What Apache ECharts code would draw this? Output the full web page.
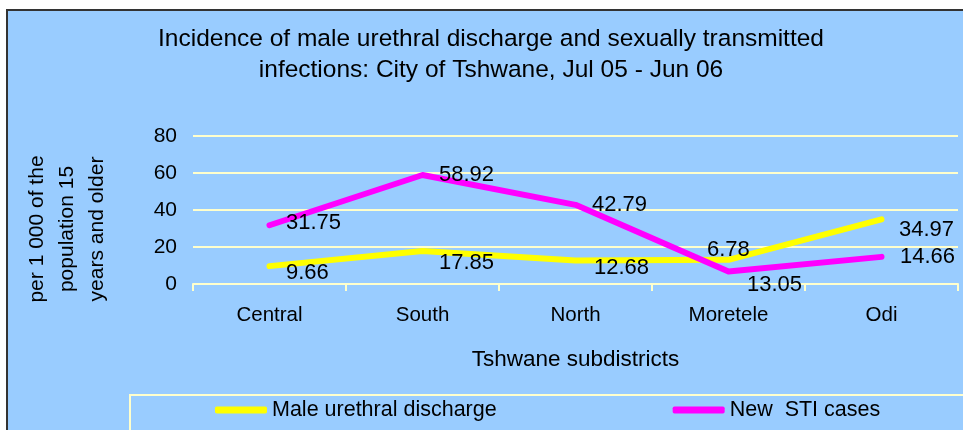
<!DOCTYPE html>
<html>
<head>
<meta charset="utf-8">
<script src="https://cdn.jsdelivr.net/npm/echarts@6/dist/echarts.min.js"></script>
<style>
  html, body { margin: 0; padding: 0; background: #fff; }
  #frame {
    position: absolute; left: 6px; top: 9px; width: 960px; height: 424px;
    background: #99ccff; border-left: 2px solid #333; border-top: 2px solid #333;
  }
  #chart { position: absolute; left: 0; top: 0; width: 963px; height: 430px; }
</style>
</head>
<body>
<div id="frame"></div>
<div id="chart"></div>
<script>
// 数据
const subdistricts = ['Central', 'South', 'North', 'Moretele', 'Odi'];
const maleDischarge = [9.66, 17.85, 12.68, 13.05, 34.97];
const newSti = [31.75, 58.92, 42.79, 6.78, 14.66];
const yTicks = { min: 0, max: 80, interval: 20 };

const font = "'Liberation Sans', Arial, sans-serif";

// 标签微调（原图中标签被手动拖动过）
const maleNudge = [[0, 7], [0, 12], [2, 7], [2, 25], [1, 11]];
const stiNudge = [[0, -2], [0, 0], [0, 0], [-38, -22], [2, 0]];

function withLabels(values, nudge) {
  return values.map((v, i) => ({
    value: v,
    label: { offset: nudge[i] },
  }));
}

const chart = echarts.init(document.getElementById('chart'));

chart.setOption({
  backgroundColor: 'transparent',
  animation: false,
  textStyle: { fontFamily: font },
  title: {
    text: 'Incidence of male urethral discharge and sexually transmitted\ninfections: City of Tshwane, Jul 05 - Jun 06',
    left: 491,
    textAlign: 'center',
    top: 24,
    padding: 0,
    textStyle: {
      fontFamily: font,
      fontSize: 24.5,
      fontWeight: 'normal',
      color: '#000',
      lineHeight: 31,
    },
  },
  // 图例外框
  graphic: [
    {
      type: 'rect',
      left: 129,
      top: 394,
      shape: { width: 900, height: 60 },
      style: { fill: 'transparent', stroke: '#ffffcc', lineWidth: 2 },
      silent: true,
    },
  ],
  legend: {
    left: 215,
    top: 399,
    padding: 0,
    itemGap: 176,
    itemWidth: 52,
    itemHeight: 7,
    icon: 'roundRect',
    textStyle: { fontFamily: font, fontSize: 21.5, color: '#000' },
    data: ['Male urethral discharge', 'New  STI cases'],
  },
  grid: {
    left: 193,
    right: 5,
    top: 136,
    bottom: 146,
  },
  xAxis: {
    type: 'category',
    data: subdistricts,
    name: 'Tshwane subdistricts',
    nameLocation: 'middle',
    nameGap: 64,
    nameTextStyle: { fontFamily: font, fontSize: 22.5, color: '#000' },
    axisLine: { lineStyle: { color: '#ffffcc', width: 2 } },
    axisTick: { show: true, length: 7, lineStyle: { color: '#ffffcc', width: 2 } },
    axisLabel: { fontFamily: font, fontSize: 20.5, color: '#000', margin: 21 },
  },
  yAxis: {
    type: 'value',
    min: yTicks.min,
    max: yTicks.max,
    interval: yTicks.interval,
    name: 'per 1 000 of the\npopulation 15\nyears and older',
    nameLocation: 'middle',
    nameRotate: 90,
    nameGap: 81,
    nameTextStyle: {
      fontFamily: font,
      fontSize: 21,
      color: '#000',
      lineHeight: 30,
      padding: [0, 38, 0, 0],
    },
    axisLine: { show: false },
    axisTick: { show: false },
    axisLabel: { fontFamily: font, fontSize: 21, color: '#000', margin: 16 },
    splitLine: { lineStyle: { color: '#ffffcc', width: 2 } },
  },
  series: [
    {
      name: 'Male urethral discharge',
      type: 'line',
      data: withLabels(maleDischarge, maleNudge),
      symbol: 'circle',
      symbolSize: 1,
      itemStyle: { color: '#ffff00' },
      lineStyle: { color: '#ffff00', width: 6, cap: 'round', join: 'round' },
      label: {
        show: true,
        position: 'right',
        distance: 16,
        fontFamily: font,
        fontSize: 22,
        color: '#000',
      },
    },
    {
      name: 'New  STI cases',
      type: 'line',
      data: withLabels(newSti, stiNudge),
      symbol: 'circle',
      symbolSize: 1,
      itemStyle: { color: '#ff00ff' },
      lineStyle: { color: '#ff00ff', width: 6, cap: 'round', join: 'round' },
      label: {
        show: true,
        position: 'right',
        distance: 16,
        fontFamily: font,
        fontSize: 22,
        color: '#000',
      },
    },
  ],
});
</script>
</body>
</html>
